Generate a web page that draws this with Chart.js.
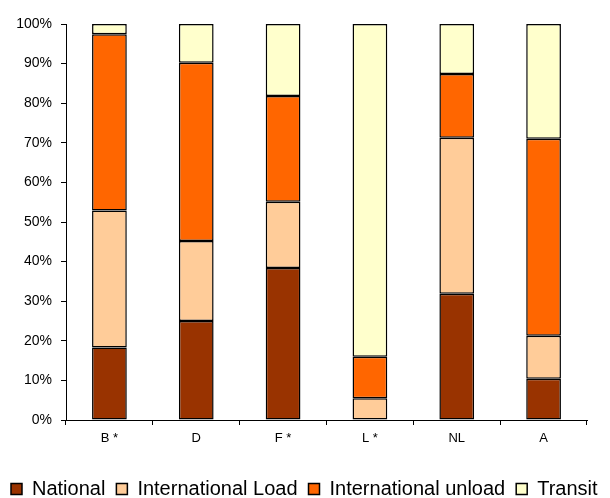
<!DOCTYPE html>
<html>
<head>
<meta charset="utf-8">
<script src="https://cdn.jsdelivr.net/npm/chart.js@4/dist/chart.umd.min.js"></script>
<style>
    body { margin: 0; background: #fff; }
    canvas { display: block; }
</style>
</head>
<body>
<canvas id="chart" width="610" height="498"></canvas>
<script>
const countries = ['B *', 'D', 'F *', 'L *', 'NL', 'A']
const seriesNames = ['National', 'International Load', 'International unload', 'Transit']
const national = [18.3, 25.0, 38.4, 0, 31.9, 10.4]
const intLoad = [34.6, 20.2, 16.7, 5.5, 39.4, 10.9]
const intUnload = [44.5, 45.0, 26.7, 10.5, 16.1, 49.7]
const transit = [2.6, 9.8, 18.2, 84.0, 12.6, 29.0]

const colors = ['#993300', '#ffcc99', '#ff6600', '#ffffcc']
const font = 'Arial, "Liberation Sans", sans-serif'

const seriesData = [national, intLoad, intUnload, transit]
const datasets = seriesData.map((d, i) => {
    return {
        label: seriesNames[i],
        data: d,
        backgroundColor: colors[i],
        borderColor: '#000',
        borderWidth: 1.5,
        borderSkipped: false,
        barPercentage: 0.4,
        categoryPercentage: 1
    }
})

new Chart(document.getElementById('chart'), {
    type: 'bar',
    data: { labels: countries, datasets: datasets },
    options: {
        responsive: false,
        animation: false,
        layout: { padding: { top: 24, left: 0, right: 0, bottom: 0 } },
        plugins: {
            tooltip: { enabled: false },
            legend: {
                position: 'bottom',
                align: 'start',
                maxHeight: 30,
                labels: {
                    boxWidth: 11,
                    boxHeight: 11,
                    padding: 11,
                    color: '#000',
                    font: { family: font, size: 20 }
                }
            }
        },
        scales: {
            x: {
                stacked: true,
                grid: { drawOnChartArea: false, tickLength: 5, color: '#000' },
                border: { color: '#000', width: 1 },
                ticks: { color: '#000', padding: 6, font: { family: font, size: 13 } },
                afterFit: (s) => { s.height = 48 }
            },
            y: {
                stacked: true,
                min: 0,
                max: 100,
                grid: { drawOnChartArea: false, tickLength: 5, color: '#000' },
                border: { color: '#000', width: 1 },
                ticks: {
                    stepSize: 10,
                    padding: 9,
                    color: '#000',
                    font: { family: font, size: 14 },
                    callback: (v) => v + '%'
                },
                afterFit: (s) => { s.width = 66 }
            },
            pad: {
                type: 'linear',
                position: 'right',
                display: true,
                ticks: { display: false },
                grid: { display: false },
                border: { display: false },
                afterFit: (s) => { s.width = 23 }
            }
        }
    }
})
</script>
</body>
</html>
